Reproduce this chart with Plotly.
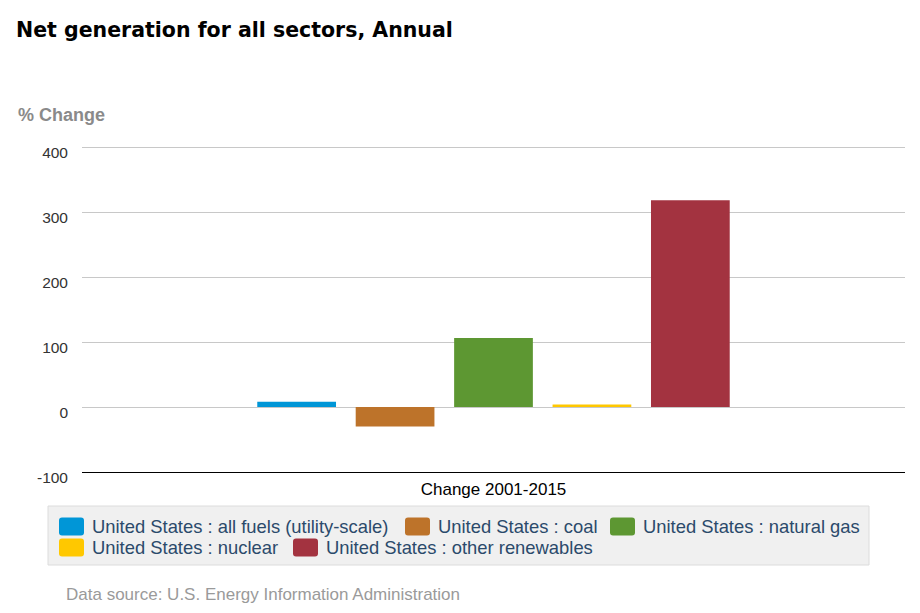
import plotly.graph_objects as go

categories = ["Change 2001-2015"]
series_names = [
    "United States : all fuels (utility-scale)",
    "United States : coal",
    "United States : natural gas",
    "United States : nuclear",
    "United States : other renewables",
]
series_values = [8, -30, 106, 4, 318]
series_colors = ["#0096d7", "#bd732a", "#5d9732", "#ffc800", "#a33340"]
y_tick_vals = [-100, 0, 100, 200, 300, 400]
y_tick_text = ["-100", "0", "100", "200", "300", "400"]

W, H = 920, 613
ml, mr, mt, mb = 82, 15, 145, 141
pw, ph = W - ml - mr, H - mt - mb
px_per_unit = 325 / 500.0
y_top = 400 + 2 / px_per_unit


def px_x(px):
    return (px - ml) / pw


def px_y(py):
    return (H - mb - py) / ph


fig = go.Figure()
for name, val, col in zip(series_names, series_values, series_colors):
    fig.add_trace(go.Bar(x=categories, y=[val], name=name, showlegend=False,
                         marker=dict(color=col, line=dict(width=0))))

FONT = "Liberation Sans, Arial, sans-serif"
fig.update_layout(
    width=W, height=H,
    margin=dict(l=ml, r=mr, t=mt, b=mb),
    paper_bgcolor="white", plot_bgcolor="white",
    font=dict(family=FONT, size=15, color="#333333"),
    barmode="group", bargap=0.402, bargroupgap=0.2,
    title=dict(text="<b>Net generation for all sectors, Annual</b>", x=16 / W, xref="container",
               xanchor="left", y=1 - 30 / H, yref="container", yanchor="middle",
               font=dict(family="DejaVu Sans, sans-serif", size=20.5, color="#000000")),
    xaxis=dict(range=[-0.5, 0.5], showgrid=False, showline=True, linecolor="#000000", linewidth=1,
               ticks="", tickfont=dict(size=17, color="#000000"), ticklabelstandoff=2),
    yaxis=dict(range=[-100, y_top], tickvals=y_tick_vals, ticktext=y_tick_text, showgrid=True,
               gridcolor="#c8c8c8", gridwidth=1, zeroline=True, zerolinecolor="#c8c8c8", zerolinewidth=1,
               tickfont=dict(size=15.5, color="#333333"), ticklabelstandoff=13, ticklabelshift=6),
    showlegend=False,
)

# legend box (drawn manually to match the reference's packed two-row layout)
fig.add_shape(type="rect", xref="paper", yref="paper", x0=px_x(48), x1=px_x(869), y0=px_y(565), y1=px_y(506),
              fillcolor="#f0f0f0", line=dict(color="#dcdcdc", width=1), layer="below")
legend_pos = [(59, 526.5), (405, 526.5), (610, 526.5), (59, 547.5), (293, 547.5)]
for name, col, (lx, ly) in zip(series_names, series_colors, legend_pos):
    x0, x1 = px_x(lx), px_x(lx + 25)
    y0, y1 = px_y(ly + 9), px_y(ly - 9)
    rx = 3 / pw
    ry = 3 / ph
    path = (f"M{x0 + rx},{y0} L{x1 - rx},{y0} Q{x1},{y0} {x1},{y0 + ry} L{x1},{y1 - ry} "
            f"Q{x1},{y1} {x1 - rx},{y1} L{x0 + rx},{y1} Q{x0},{y1} {x0},{y1 - ry} "
            f"L{x0},{y0 + ry} Q{x0},{y0} {x0 + rx},{y0} Z")
    fig.add_shape(type="path", xref="paper", yref="paper", path=path, fillcolor=col, line=dict(width=0))
    fig.add_annotation(text=name, xref="paper", yref="paper", x=px_x(lx + 31), y=px_y(ly),
                       xanchor="left", yanchor="middle", showarrow=False,
                       font=dict(family=FONT, size=18.4, color="#2b4a6b"))

fig.add_annotation(text="<b>% Change</b>", xref="paper", yref="paper", x=px_x(16), y=px_y(115),
                   xanchor="left", yanchor="middle", showarrow=False,
                   font=dict(family=FONT, size=18, color="#8a8a8a"))
fig.add_annotation(text="Data source: U.S. Energy Information Administration", xref="paper", yref="paper",
                   x=px_x(64), y=px_y(594), xanchor="left", yanchor="middle", showarrow=False,
                   font=dict(family=FONT, size=17, color="#9a9a9a"))

fig.write_html("out.html")
